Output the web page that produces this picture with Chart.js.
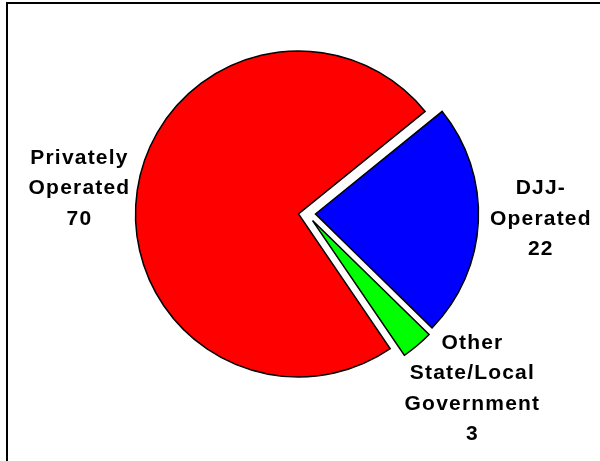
<!DOCTYPE html>
<html>
<head>
<meta charset="utf-8">
<script src="https://cdn.jsdelivr.net/npm/chart.js@4"></script>
<style>
  html, body { margin: 0; padding: 0; background: #fff; }
  #wrap { position: relative; width: 600px; height: 461px; }
</style>
</head>
<body>
<div id="wrap"><canvas id="chart-pie"></canvas></div>
<script>
const categories = ['DJJ-Operated', 'Other State/Local Government', 'Privately Operated'];
const labelLines = [['DJJ-', 'Operated'], ['Other', 'State/Local', 'Government'], ['Privately', 'Operated']];
const values = [22, 3, 70];
const colors = ['#0000ff', '#00ff00', '#ff0000'];

// pulls the small slices away from the centre
const explodePlugin = {
  id: 'explode',
  beforeDatasetDraw(chart, args, opts) {
    const ctx = chart.ctx;
    args.meta.data.forEach((arc, i) => {
      const d = opts.dist[i];
      const a = (opts.dir[i] - 90) * Math.PI / 180;
      ctx.save();
      ctx.translate(Math.cos(a) * d, Math.sin(a) * d);
      arc.draw(ctx);
      ctx.restore();
    });
    return false;
  }
};

// labels outside the pie + the frame lines
const outsideLabels = {
  id: 'outsideLabels',
  afterDraw(chart, args, opts) {
    const ctx = chart.ctx;
    ctx.save();
    ctx.fillStyle = '#000';
    ctx.fillRect(6, 2, 2, chart.height);
    ctx.fillRect(6, 2, chart.width - 6, 2);

    ctx.font = 'bold 21px "Liberation Sans", Arial, sans-serif';
    ctx.letterSpacing = '1.2px';
    ctx.textAlign = 'center';
    ctx.textBaseline = 'alphabetic';
    const lh = 30.5;
    const meta = chart.getDatasetMeta(0);
    meta.data.forEach((arc, i) => {
      const mid = (arc.startAngle + arc.endAngle) / 2;
      const r = arc.outerRadius + opts.pad[i];
      const cx = arc.x + Math.cos(mid) * r + opts.nudge[i][0];
      const cy = arc.y + Math.sin(mid) * r + opts.nudge[i][1];
      const lines = labelLines[i].concat([String(values[i])]);
      const top = cy - (lines.length - 1) * lh / 2 + 7.5;
      lines.forEach((t, j) => {
        ctx.fillText(t, cx + 0.6, top + j * lh);
      });
    });
    ctx.restore();
  }
};

new Chart(document.getElementById('chart-pie'), {
  type: 'pie',
  data: {
    labels: categories,
    datasets: [{
      data: values,
      backgroundColor: colors,
      borderColor: '#000',
      borderWidth: 1.5,
      borderJoinStyle: 'miter',
      offset: 0
    }]
  },
  options: {
    responsive: true,
    maintainAspectRatio: false,
    animation: false,
    rotation: 51,
    radius: 163,
    layout: { padding: { left: 0, right: 3, top: 0, bottom: 33 } },
    plugins: {
      legend: { display: false },
      tooltip: { enabled: false },
      explode: { dist: [17, 15.5, 0], dir: [90, 115, 0] },
      outsideLabels: {
        pad: [79, 82, 59],
        nudge: [[0, -8], [16, -15], [0, 5]]
      }
    }
  },
  plugins: [explodePlugin, outsideLabels]
});
</script>
</body>
</html>
